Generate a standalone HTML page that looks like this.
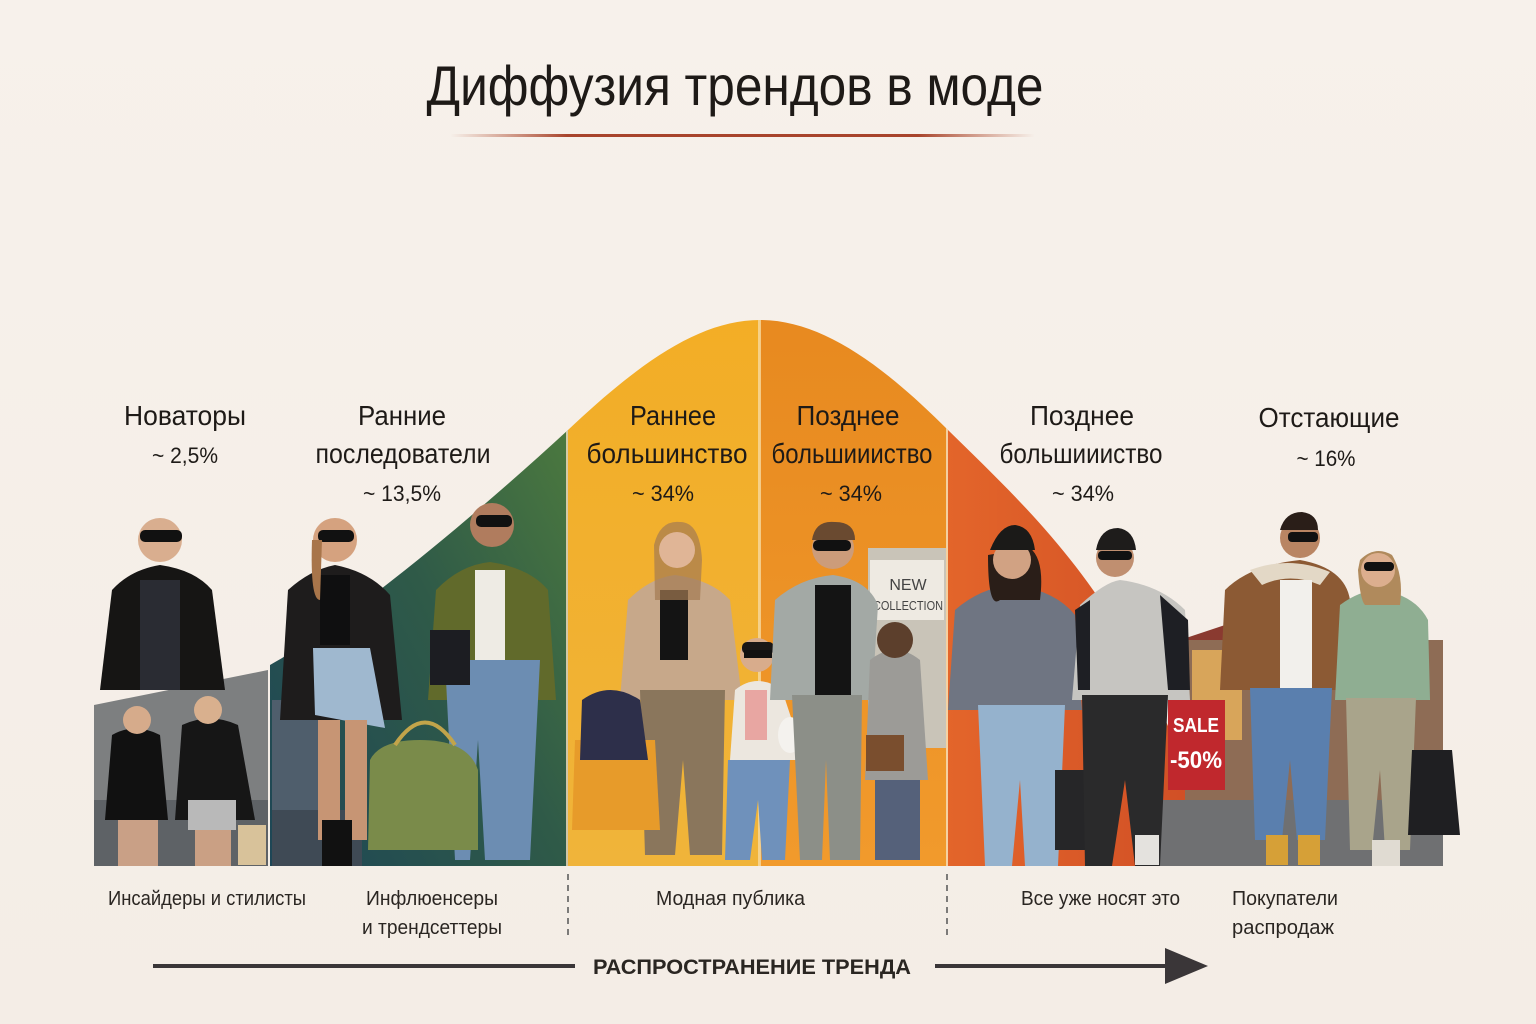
<!DOCTYPE html>
<html><head><meta charset="utf-8"><style>
html,body{margin:0;padding:0;background:#f6f0ea;}
svg{display:block}
.h{font-family:"Liberation Sans","DejaVu Sans",sans-serif;fill:#1e1a17;}
.c{font-family:"Liberation Sans","DejaVu Sans",sans-serif;fill:#2a2622;}
</style></head><body>
<svg width="1536" height="1024" viewBox="0 0 1536 1024" xmlns="http://www.w3.org/2000/svg">
<defs>
<linearGradient id="bg" x1="0" y1="0" x2="0" y2="1"><stop offset="0" stop-color="#f7f1eb"/><stop offset="1" stop-color="#f4ede6"/></linearGradient>
<linearGradient id="gr" x1="0" y1="1" x2="1" y2="0"><stop offset="0" stop-color="#1d4656"/><stop offset="0.5" stop-color="#2f5a48"/><stop offset="1" stop-color="#54823c"/></linearGradient>
<linearGradient id="ye" x1="0" y1="0" x2="0" y2="1"><stop offset="0" stop-color="#f3ad25"/><stop offset="1" stop-color="#f0b43a"/></linearGradient>
<linearGradient id="or" x1="0" y1="0" x2="0" y2="1"><stop offset="0" stop-color="#e7891f"/><stop offset="1" stop-color="#f19a2c"/></linearGradient>
<linearGradient id="rd" x1="0" y1="0" x2="1" y2="0"><stop offset="0" stop-color="#e3652a"/><stop offset="1" stop-color="#cf4d25"/></linearGradient>
<linearGradient id="ul" x1="0" y1="0" x2="1" y2="0"><stop offset="0" stop-color="#b5573a" stop-opacity="0"/><stop offset="0.2" stop-color="#a8442c"/><stop offset="0.8" stop-color="#a8442c"/><stop offset="1" stop-color="#b5573a" stop-opacity="0"/></linearGradient>
<clipPath id="curve"><path d="M270,866 L270,665 C350,620 470,520 568,430 C640,362 700,320 760,320 C820,320 880,362 948,430 C1050,530 1150,620 1215,866 Z"/></clipPath>
</defs>
<rect width="1536" height="1024" fill="url(#bg)"/>
<text class="h" x="735" y="105" font-size="56" text-anchor="middle" textLength="617" lengthAdjust="spacingAndGlyphs">Диффузия трендов в моде</text>
<rect x="450" y="134" width="585" height="3" fill="url(#ul)"/>

<g clip-path="url(#curve)">
<rect x="270" y="300" width="298" height="566" fill="url(#gr)"/>
<rect x="568" y="300" width="192" height="566" fill="url(#ye)"/>
<rect x="760" y="300" width="188" height="566" fill="url(#or)"/>
<rect x="948" y="300" width="270" height="566" fill="url(#rd)"/>
<rect x="758" y="300" width="3" height="566" fill="#f6d9a0" opacity="0.8"/>
<rect x="946" y="300" width="2" height="566" fill="#f6e0c0" opacity="0.8"/>
<rect x="566" y="300" width="2" height="566" fill="#f6e0c0" opacity="0.8"/>
</g>
<polygon points="94,705 268,670 268,866 94,866" fill="#7d7f80"/>
<rect x="94" y="800" width="174" height="66" fill="#5e6266"/>
<rect x="272" y="700" width="60" height="166" fill="#4f5e6c"/>
<rect x="272" y="810" width="90" height="56" fill="#3f4a55"/>
<rect x="1185" y="640" width="258" height="160" fill="#8e6c55"/>
<polygon points="1180,640 1240,620 1300,640" fill="#8a3a30"/>
<rect x="1192" y="650" width="50" height="90" fill="#d8a55a"/>
<rect x="1160" y="800" width="283" height="66" fill="#6f7072"/>
<rect x="1168" y="700" width="57" height="90" fill="#c0282d"/>
<text x="1196" y="732" font-family="Liberation Sans,sans-serif" font-weight="bold" font-size="20" fill="#fff" text-anchor="middle" textLength="46" lengthAdjust="spacingAndGlyphs">SALE</text>
<text x="1196" y="768" font-family="Liberation Sans,sans-serif" font-weight="bold" font-size="24" fill="#fff" text-anchor="middle" textLength="52" lengthAdjust="spacingAndGlyphs">-50%</text>
<rect x="868" y="548" width="78" height="200" fill="#c9c4b8"/>
<rect x="870" y="560" width="74" height="60" fill="#eeeae2"/>
<text x="908" y="590" font-family="Liberation Sans,sans-serif" font-size="16" fill="#444" text-anchor="middle">NEW</text>
<text x="908" y="610" font-family="Liberation Sans,sans-serif" font-size="13" fill="#444" text-anchor="middle" textLength="70" lengthAdjust="spacingAndGlyphs">COLLECTION</text>

<g>
<path d="M100,690 L112,590 Q130,570 160,565 Q195,570 212,590 L225,690 Z" fill="#161514"/>
<rect x="140" y="580" width="40" height="110" fill="#2a2c33"/>
<circle cx="160" cy="540" r="22" fill="#d9ae8f"/><rect x="140" y="530" width="42" height="12" rx="5" fill="#111"/>
<path d="M105,820 L112,735 Q135,722 160,735 L168,820 Z" fill="#111"/><circle cx="137" cy="720" r="14" fill="#d6ab8b"/>
<rect x="118" y="820" width="40" height="46" fill="#c9a086"/>
<path d="M175,820 L182,725 Q210,712 238,725 L255,820 Z" fill="#161616"/><circle cx="208" cy="710" r="14" fill="#d9b08e"/>
<rect x="188" y="800" width="48" height="30" fill="#b9b9b9"/><rect x="195" y="830" width="36" height="36" fill="#caa084"/>
<rect x="238" y="825" width="28" height="40" fill="#d8c29a"/>
<path d="M280,720 L288,590 Q310,570 335,565 Q370,572 390,595 L402,720 Z" fill="#1e1c1c"/>
<rect x="320" y="575" width="30" height="70" fill="#0f0f10"/>
<path d="M313,648 L370,648 L385,728 L315,715 Z" fill="#9fb8cf"/>
<rect x="318" y="720" width="22" height="120" fill="#c79574"/><rect x="345" y="720" width="22" height="120" fill="#c79574"/>
<rect x="322" y="820" width="30" height="46" fill="#111"/>
<circle cx="335" cy="540" r="22" fill="#d5a27f"/><rect x="318" y="530" width="36" height="12" rx="5" fill="#111"/>
<path d="M312,540 Q310,600 320,600 L322,540 Z" fill="#a8754a"/>
<path d="M428,700 L436,590 Q460,565 490,562 Q530,568 548,590 L556,700 Z" fill="#616a2b"/>
<rect x="475" y="570" width="30" height="90" fill="#eeebe4"/>
<path d="M445,660 L540,660 L530,860 L485,860 L478,740 L470,860 L455,860 Z" fill="#6c8db2"/>
<circle cx="492" cy="525" r="22" fill="#b07c5e"/><rect x="476" y="515" width="36" height="12" rx="5" fill="#111"/>
<rect x="430" y="630" width="40" height="55" fill="#1c1d22"/>
<path d="M370,760 Q380,740 420,740 Q468,740 478,770 L478,850 L368,850 Z" fill="#7a8b4a"/>
<path d="M395,745 Q425,700 455,745" fill="none" stroke="#c2a44a" stroke-width="4"/>
<path d="M620,700 L628,600 Q650,578 675,575 Q712,580 730,600 L742,700 Z" fill="#c7a88a"/>
<rect x="660" y="590" width="28" height="70" fill="#141414"/>
<path d="M640,690 L725,690 L722,855 L690,855 L683,760 L675,855 L645,855 Z" fill="#8a765c"/>
<path d="M654,545 Q660,520 680,522 Q700,522 702,560 L700,600 L655,600 Z" fill="#a47a52" opacity="0.7"/>
<circle cx="677" cy="550" r="18" fill="#e0b596"/>
<path d="M575,740 L655,740 L660,830 L572,830 Z" fill="#e79b2a"/>
<path d="M582,700 Q610,680 640,700 L648,760 L580,760 Z" fill="#2d2f4a"/>
<path d="M730,760 L735,690 Q757,672 782,690 L805,760 Z" fill="#ece7df"/>
<rect x="745" y="690" width="22" height="50" fill="#e8a6a2"/>
<path d="M728,760 L790,760 L785,860 L762,860 L758,800 L750,860 L725,860 Z" fill="#6f91bb"/>
<circle cx="757" cy="655" r="17" fill="#d8ac8c"/><rect x="742" y="642" width="32" height="12" rx="5" fill="#1a1716"/><rect x="744" y="650" width="28" height="8" fill="#111"/>
<ellipse cx="790" cy="735" rx="12" ry="18" fill="#f4f2ee"/>
<path d="M770,700 L775,600 Q800,578 833,575 Q868,580 878,605 L872,700 Z" fill="#a3a9a5"/>
<rect x="815" y="585" width="36" height="110" fill="#141414"/>
<path d="M792,695 L862,695 L860,860 L830,860 L826,760 L822,860 L800,860 Z" fill="#8c8f88"/>
<circle cx="833" cy="548" r="21" fill="#cc9c7a"/><rect x="813" y="540" width="38" height="11" rx="5" fill="#111"/>
<path d="M812,540 Q815,520 835,522 Q855,522 855,540 Z" fill="#6a4a30"/>
<path d="M865,780 L870,660 Q895,640 920,660 L928,780 Z" fill="#9c9b97"/>
<rect x="875" y="780" width="45" height="80" fill="#55617a"/>
<circle cx="895" cy="640" r="18" fill="#5c3f2c"/>
<rect x="866" y="735" width="38" height="36" fill="#7a4e2e"/>
<path d="M948,710 L955,610 Q980,588 1012,585 Q1055,590 1075,615 L1082,710 Z" fill="#6f7582"/>
<path d="M978,705 L1065,705 L1058,866 L1025,866 L1020,780 L1012,866 L985,866 Z" fill="#95b2cd"/>
<path d="M988,555 Q988,610 1000,600 L1040,600 Q1045,560 1030,548 Z" fill="#2a1e18"/>
<circle cx="1012" cy="560" r="19" fill="#d1a283"/>
<path d="M990,550 Q1000,525 1015,525 Q1032,527 1035,550 Z" fill="#1b1a18"/>
<path d="M1055,770 L1095,770 L1105,850 L1055,850 Z" fill="#262628"/>
<path d="M1072,700 L1080,605 Q1105,582 1120,580 Q1160,585 1185,610 L1190,700 Z" fill="#c6c5c1"/>
<path d="M1075,610 L1090,600 L1090,690 L1078,690 Z" fill="#1e1f24"/><path d="M1160,595 L1188,620 L1190,690 L1168,690 Z" fill="#1e1f24"/>
<path d="M1082,695 L1168,695 L1160,866 L1135,866 L1125,780 L1112,866 L1085,866 Z" fill="#2a2a2b"/>
<circle cx="1115" cy="558" r="19" fill="#c08f70"/>
<path d="M1096,550 Q1100,528 1118,528 Q1134,530 1136,550 Z" fill="#1e1c1b"/><rect x="1098" y="551" width="34" height="9" rx="4" fill="#111"/>
<rect x="1135" y="835" width="24" height="30" fill="#e4e2de"/>
<path d="M1220,690 L1225,590 Q1250,565 1300,560 Q1345,568 1350,600 L1345,690 Z" fill="#8c5a34"/>
<path d="M1250,570 Q1290,555 1330,572 L1320,585 Q1290,572 1262,585 Z" fill="#e3d8c6"/>
<rect x="1280" y="580" width="32" height="110" fill="#f2f0ec"/>
<path d="M1250,688 L1332,688 L1325,840 L1297,840 L1290,760 L1282,840 L1255,840 Z" fill="#5a7fae"/>
<rect x="1266" y="835" width="22" height="30" fill="#d6a037"/><rect x="1298" y="835" width="22" height="30" fill="#d6a037"/>
<circle cx="1300" cy="538" r="20" fill="#b98563"/><path d="M1280,530 Q1285,512 1302,512 Q1318,514 1318,530 Z" fill="#2a1e18"/><rect x="1288" y="532" width="30" height="10" rx="4" fill="#111"/>
<path d="M1335,700 L1340,605 Q1360,590 1380,590 Q1415,595 1428,620 L1430,700 Z" fill="#8fae92"/>
<path d="M1346,698 L1416,698 L1410,850 L1385,850 L1380,770 L1372,850 L1350,850 Z" fill="#a9a48b"/>
<rect x="1372" y="840" width="28" height="26" fill="#e0dbd2"/>
<path d="M1358,570 Q1360,600 1365,605 L1400,605 Q1404,575 1392,555 Q1375,545 1360,560 Z" fill="#b08a5c"/>
<circle cx="1378" cy="570" r="17" fill="#dcae8e"/><rect x="1364" y="562" width="30" height="9" rx="4" fill="#111"/>
<path d="M1412,750 L1452,750 L1460,835 L1408,835 Z" fill="#1f1f22"/>
</g>

<g class="h" text-anchor="middle">
<text x="185" y="425" font-size="28" textLength="122" lengthAdjust="spacingAndGlyphs">Новаторы</text>
<text x="185" y="463" font-size="22" textLength="66" lengthAdjust="spacingAndGlyphs">~ 2,5%</text>
<text x="402" y="425" font-size="28" textLength="88" lengthAdjust="spacingAndGlyphs">Ранние</text>
<text x="403" y="463" font-size="28" textLength="175" lengthAdjust="spacingAndGlyphs">последователи</text>
<text x="402" y="501" font-size="22" textLength="78" lengthAdjust="spacingAndGlyphs">~ 13,5%</text>
<text x="673" y="425" font-size="28" textLength="86" lengthAdjust="spacingAndGlyphs">Раннее</text>
<text x="667" y="463" font-size="28" textLength="161" lengthAdjust="spacingAndGlyphs">большинство</text>
<text x="663" y="501" font-size="22" textLength="62" lengthAdjust="spacingAndGlyphs">~ 34%</text>
<text x="848" y="425" font-size="28" textLength="103" lengthAdjust="spacingAndGlyphs">Позднее</text>
<text x="852" y="463" font-size="28" textLength="161" lengthAdjust="spacingAndGlyphs">большиииство</text>
<text x="851" y="501" font-size="22" textLength="62" lengthAdjust="spacingAndGlyphs">~ 34%</text>
<text x="1082" y="425" font-size="28" textLength="104" lengthAdjust="spacingAndGlyphs">Позднее</text>
<text x="1081" y="463" font-size="28" textLength="163" lengthAdjust="spacingAndGlyphs">большиииство</text>
<text x="1083" y="501" font-size="22" textLength="62" lengthAdjust="spacingAndGlyphs">~ 34%</text>
<text x="1329" y="427" font-size="28" textLength="141" lengthAdjust="spacingAndGlyphs">Отстающие</text>
<text x="1326" y="466" font-size="22" textLength="59" lengthAdjust="spacingAndGlyphs">~ 16%</text>
</g>

<g class="c" font-size="20">
<text x="108" y="905" textLength="198" lengthAdjust="spacingAndGlyphs">Инсайдеры и стилисты</text>
<text x="366" y="905" textLength="132" lengthAdjust="spacingAndGlyphs">Инфлюенсеры</text>
<text x="362" y="934" textLength="140" lengthAdjust="spacingAndGlyphs">и трендсеттеры</text>
<text x="656" y="905" textLength="149" lengthAdjust="spacingAndGlyphs">Модная публика</text>
<text x="1021" y="905" textLength="159" lengthAdjust="spacingAndGlyphs">Все уже носят это</text>
<text x="1232" y="905" textLength="106" lengthAdjust="spacingAndGlyphs">Покупатели</text>
<text x="1232" y="934" textLength="102" lengthAdjust="spacingAndGlyphs">распродаж</text>
</g>
<line x1="568" y1="874" x2="568" y2="936" stroke="#555" stroke-width="1.5" stroke-dasharray="6,5"/>
<line x1="947" y1="874" x2="947" y2="936" stroke="#555" stroke-width="1.5" stroke-dasharray="6,5"/>

<line x1="153" y1="966" x2="575" y2="966" stroke="#3a3638" stroke-width="4"/>
<text class="c" x="752" y="974" font-size="21" font-weight="bold" text-anchor="middle" textLength="318" lengthAdjust="spacingAndGlyphs" fill="#3a3536">РАСПРОСТРАНЕНИЕ ТРЕНДА</text>
<line x1="935" y1="966" x2="1170" y2="966" stroke="#3a3638" stroke-width="4"/>
<polygon points="1165,948 1208,966 1165,984" fill="#3a3638"/>
</svg>
</body></html>
